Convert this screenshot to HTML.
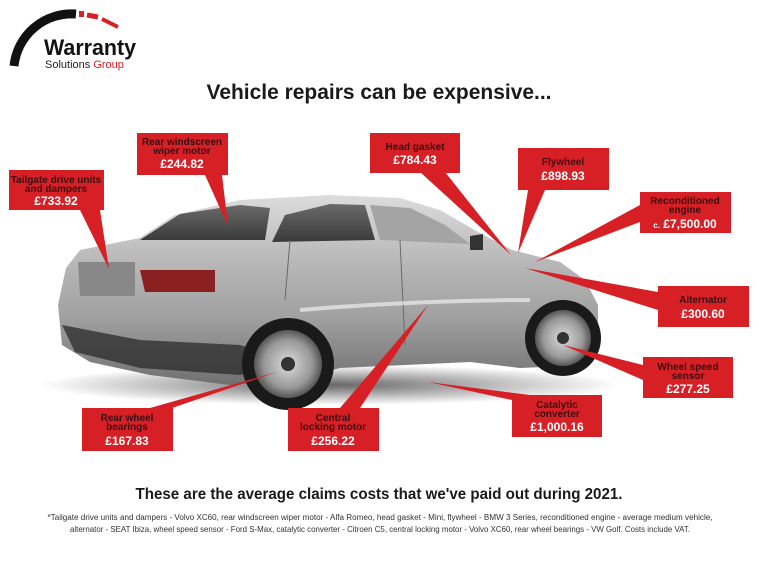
<!DOCTYPE html>
<html><head><meta charset="utf-8"><style>
html,body{margin:0;padding:0;background:#fff;}
svg{display:block;font-family:"Liberation Sans",sans-serif;}
.t{font-weight:bold;fill:#3a0d10;font-size:10px;text-anchor:middle;}
.p{font-weight:bold;fill:#fff;font-size:12px;text-anchor:middle;}
</style></head><body>
<svg width="759" height="569" viewBox="0 0 759 569">
<defs>
<linearGradient id="body" x1="0" y1="0" x2="0" y2="1">
<stop offset="0" stop-color="#dcdcdc"/><stop offset="0.35" stop-color="#b8b8b8"/><stop offset="0.65" stop-color="#a0a0a0"/><stop offset="1" stop-color="#707070"/></linearGradient>
<linearGradient id="glass" x1="0" y1="0" x2="0" y2="1"><stop offset="0" stop-color="#6a6a6a"/><stop offset="1" stop-color="#3a3a3a"/></linearGradient>
<radialGradient id="shadow" cx="0.5" cy="0.5" r="0.5"><stop offset="0" stop-color="#000" stop-opacity="0.6"/><stop offset="1" stop-color="#000" stop-opacity="0"/></radialGradient>
<radialGradient id="rim" cx="0.5" cy="0.5" r="0.5"><stop offset="0" stop-color="#ddd"/><stop offset="0.7" stop-color="#999"/><stop offset="1" stop-color="#555"/></radialGradient>
</defs>
<path d="M14 66 A58 58 0 0 1 76 14" stroke="#111" stroke-width="9" fill="none"/>
<path d="M79 14 L84 14" stroke="#d71f26" stroke-width="6"/>
<path d="M87 15 L98 17" stroke="#d71f26" stroke-width="5"/>
<path d="M102 19 L118 27" stroke="#d71f26" stroke-width="4"/>
<text x="44" y="55" font-size="22" font-weight="bold" fill="#111" textLength="92" lengthAdjust="spacingAndGlyphs">Warranty</text>
<text x="45" y="68" font-size="11" fill="#222">Solutions <tspan fill="#d71f26">Group</tspan></text>
<text x="379" y="99" font-size="21" font-weight="bold" fill="#1a1a1a" text-anchor="middle" textLength="345" lengthAdjust="spacingAndGlyphs">Vehicle repairs can be expensive...</text>

<ellipse cx="330" cy="385" rx="290" ry="20" fill="url(#shadow)"/>
<path d="M62 345 L58 305 L66 268 L80 250 L140 238 L175 215 L240 200 L330 195 L400 198 L440 210 L478 232 L512 250 L560 262 L585 280 L598 305 L598 345 L590 365 L520 368 L470 362 L340 368 L290 380 L230 385 L150 375 L90 362 Z" fill="url(#body)"/>
<path d="M62 325 L140 340 L240 345 L290 360 L240 375 L140 368 L75 352 Z" fill="#2a2a2a" opacity="0.75"/>
<path d="M140 240 L180 214 L240 205 L270 208 L265 240 Z" fill="url(#glass)"/>
<path d="M272 242 L285 215 L330 204 L365 205 L375 240 Z" fill="url(#glass)"/>
<path d="M380 240 L370 205 L410 208 L445 225 L470 244 Z" fill="#a4a4a4"/>
<path d="M140 270 L215 270 L215 292 L145 292 Z" fill="#8a2020"/>
<path d="M78 262 L135 262 L135 296 L80 296 Z" fill="#888"/>
<path d="M470 236 L483 234 L483 250 L470 250 Z" fill="#333"/>
<line x1="400" y1="240" x2="405" y2="345" stroke="#6a6a6a" stroke-width="1"/>
<line x1="290" y1="240" x2="285" y2="300" stroke="#6a6a6a" stroke-width="1"/>
<path d="M300 310 Q420 300 530 300" stroke="#eee" stroke-width="4" fill="none" opacity="0.7"/>
<circle cx="288" cy="364" r="46" fill="#1a1a1a"/>
<circle cx="288" cy="364" r="34" fill="url(#rim)"/>
<circle cx="288" cy="364" r="7" fill="#333"/>
<circle cx="563" cy="338" r="38" fill="#1a1a1a"/>
<circle cx="563" cy="338" r="28" fill="url(#rim)"/>
<circle cx="563" cy="338" r="6" fill="#333"/>

<g fill="#d71f26">
<polygon points="80,210 100,210 109,269"/>
<polygon points="205,175 222,175 228,226"/>
<polygon points="420,172 445,172 511,255"/>
<polygon points="528,190 545,190 518,253"/>
<polygon points="640,205 640,222 535,262"/>
<polygon points="658,292 658,310 525,268"/>
<polygon points="643,365 643,380 563,345"/>
<polygon points="512,400 530,395 428,382"/>
<polygon points="340,408 360,408 428,305"/>
<polygon points="150,408 172,408 277,372"/>
<rect x="9" y="170" width="95" height="40"/>
<rect x="137" y="133" width="91" height="42"/>
<rect x="370" y="133" width="90" height="40"/>
<rect x="518" y="148" width="91" height="42"/>
<rect x="640" y="192" width="91" height="41"/>
<rect x="658" y="286" width="91" height="41"/>
<rect x="643" y="357" width="90" height="41"/>
<rect x="512" y="395" width="90" height="42"/>
<rect x="288" y="408" width="91" height="43"/>
<rect x="82" y="408" width="91" height="43"/>
</g>
<text class="t" x="56" y="183">Tailgate drive units</text><text class="t" x="56" y="192">and dampers</text><text class="p" x="56" y="205">£733.92</text>
<text class="t" x="182" y="145">Rear windscreen</text><text class="t" x="182" y="154">wiper motor</text><text class="p" x="182" y="168">£244.82</text>
<text class="t" x="415" y="150">Head gasket</text><text class="p" x="415" y="164">£784.43</text>
<text class="t" x="563" y="165">Flywheel</text><text class="p" x="563" y="180">£898.93</text>
<text class="t" x="685" y="204">Reconditioned</text><text class="t" x="685" y="213">engine</text><text class="p" x="685" y="228"><tspan font-size="8">c.</tspan> £7,500.00</text>
<text class="t" x="703" y="303">Alternator</text><text class="p" x="703" y="318">£300.60</text>
<text class="t" x="688" y="370">Wheel speed</text><text class="t" x="688" y="379">sensor</text><text class="p" x="688" y="393">£277.25</text>
<text class="t" x="557" y="408">Catalytic</text><text class="t" x="557" y="417">converter</text><text class="p" x="557" y="431">£1,000.16</text>
<text class="t" x="333" y="421">Central</text><text class="t" x="333" y="430">locking motor</text><text class="p" x="333" y="445">£256.22</text>
<text class="t" x="127" y="421">Rear wheel</text><text class="t" x="127" y="430">bearings</text><text class="p" x="127" y="445">£167.83</text>

<text x="379" y="499" font-size="16" font-weight="bold" fill="#1a1a1a" text-anchor="middle" textLength="487" lengthAdjust="spacingAndGlyphs">These are the average claims costs that we've paid out during 2021.</text>
<text x="380" y="520" font-size="8" fill="#333" text-anchor="middle" textLength="665" lengthAdjust="spacingAndGlyphs">*Tailgate drive units and dampers - Volvo XC60, rear windscreen wiper motor - Alfa Romeo, head gasket - Mini, flywheel - BMW 3 Series, reconditioned engine - average medium vehicle,</text>
<text x="380" y="532" font-size="8" fill="#333" text-anchor="middle" textLength="620" lengthAdjust="spacingAndGlyphs">alternator - SEAT Ibiza, wheel speed sensor - Ford S-Max, catalytic converter - Citroen C5, central locking motor - Volvo XC60, rear wheel bearings - VW Golf. Costs include VAT.</text>
</svg>
</body></html>
